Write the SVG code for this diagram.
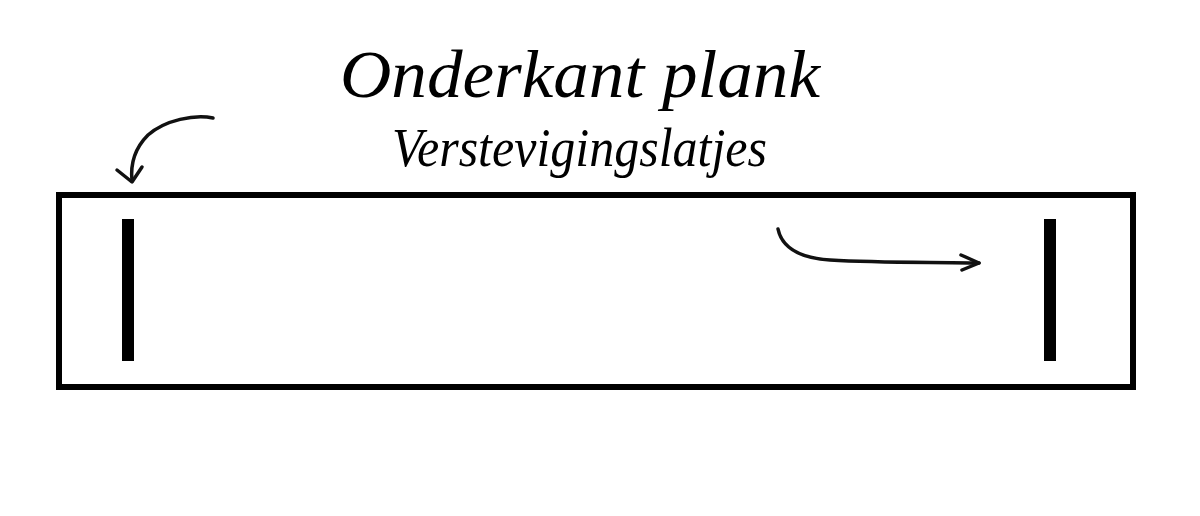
<svg xmlns="http://www.w3.org/2000/svg" width="1200" height="516" viewBox="0 0 1200 516">
<style>
.title{font-family:"Liberation Serif","DejaVu Serif",serif;font-style:italic;fill:#000}
.arrow{fill:none;stroke:#111;stroke-width:3.5;stroke-linecap:round;stroke-linejoin:round}
</style>
<rect width="1200" height="516" fill="#fff"/>
<g id="title">
<text class="title" x="340" y="97" font-size="68" textLength="480" lengthAdjust="spacingAndGlyphs">Onderkant plank</text>
<text class="title" x="392" y="166" font-size="54" textLength="375" lengthAdjust="spacingAndGlyphs">Verstevigingslatjes</text>
</g>
<g id="plank">
<rect x="59" y="195" width="1074" height="192" fill="none" stroke="#000" stroke-width="6"/>
</g>
<g id="lat-left"><rect x="122" y="219" width="12" height="142" fill="#000"/></g>
<g id="lat-right"><rect x="1044" y="219" width="12" height="142" fill="#000"/></g>
<g id="connectors">
<path class="arrow" d="M213 118 C195 114 165 120 148 135 C136 147 130 162 132 181"/>
<path class="arrow" d="M117 170 L132 182 L142 167"/>
<path class="arrow" d="M778 229 C782 248 800 258 830 260 C880 263 930 262 979 263"/>
<path class="arrow" d="M961 255 L979 263 L962 270"/>
</g>
</svg>
